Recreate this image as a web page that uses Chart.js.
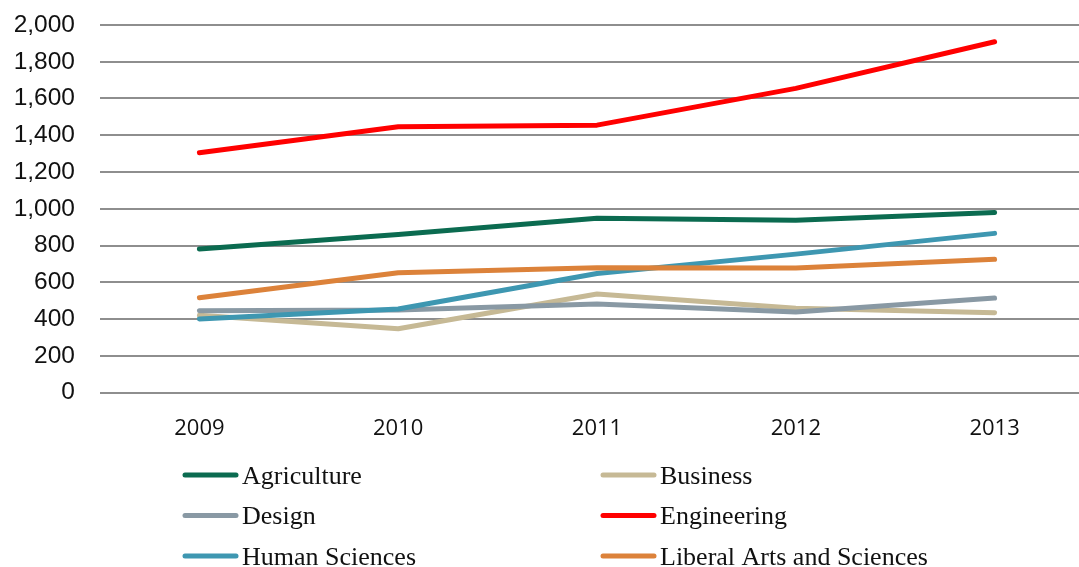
<!DOCTYPE html>
<html>
<head>
<meta charset="utf-8">
<script src="https://cdn.jsdelivr.net/npm/chart.js@4"></script>
<style>
  html, body { margin: 0; padding: 0; background: #fff; overflow: hidden; }
  #wrap { width: 1094px; height: 567px; }
</style>
</head>
<body>
<div id="wrap"><canvas id="c" width="1094" height="567"></canvas></div>
<script>
// Enrolment by college, 2009–2013
const years = ['2009', '2010', '2011', '2012', '2013'];
const agriculture   = [781, 860, 948, 938, 980];
const business      = [420, 347, 536, 458, 434];
const design        = [445, 449, 481, 438, 514];
const engineering   = [1305, 1446, 1455, 1655, 1909];
const humanSciences = [400, 454, 648, 753, 866];
const liberalArts   = [516, 652, 679, 677, 725];
const yTicks = [0, 200, 400, 600, 800, 1000, 1200, 1400, 1600, 1800, 2000];

const series = [
  { label: 'Agriculture', data: agriculture, color: '#0b6b50' },
  { label: 'Business', data: business, color: '#c6b995' },
  { label: 'Design', data: design, color: '#8999a4' },
  { label: 'Engineering', data: engineering, color: '#ff0000' },
  { label: 'Human Sciences', data: humanSciences, color: '#3e97b1' },
  { label: 'Liberal Arts and Sciences', data: liberalArts, color: '#dc823a' }
];

// Two-column legend under the plot, drawn from the datasets
const gridLegend = {
  id: 'gridLegend',
  afterDraw(chart) {
    const ctx = chart.ctx;
    const colX = [183, 601];
    const rowY = [475, 515.5, 556];
    ctx.save();
    ctx.font = '26px "Liberation Serif", serif';
    ctx.textBaseline = 'alphabetic';
    ctx.textAlign = 'left';
    chart.data.datasets.forEach((ds, i) => {
      const x = colX[i % 2];
      const y = rowY[Math.floor(i / 2)];
      ctx.strokeStyle = ds.borderColor;
      ctx.lineWidth = 5;
      ctx.lineCap = 'round';
      ctx.beginPath();
      ctx.moveTo(x + 2, y);
      ctx.lineTo(x + 53, y);
      ctx.stroke();
      ctx.fillStyle = '#111';
      ctx.fillText(ds.label, x + 59, y + 8.5);
    });
    ctx.restore();
  }
};

new Chart(document.getElementById('c'), {
  type: 'line',
  data: {
    labels: years,
    datasets: series.map((s, i) => ({
      label: s.label,
      data: s.data,
      borderColor: s.color,
      backgroundColor: s.color,
      borderWidth: 5,
      borderCapStyle: 'round',
      borderJoinStyle: 'round',
      pointRadius: 0,
      tension: 0,
      fill: false,
      order: series.length - i
    }))
  },
  options: {
    responsive: false,
    animation: false,
    layout: { padding: { top: 25, right: 0, bottom: 0, left: 0 } },
    plugins: {
      legend: { display: false },
      tooltip: { enabled: false }
    },
    scales: {
      x: {
        offset: true,
        grid: { display: false },
        border: { display: false },
        ticks: {
          color: '#111',
          font: { family: '"Open Sans", sans-serif', size: 22 },
          padding: 15,
          maxRotation: 0
        },
        afterFit(s) { s.height = 174.5; }
      },
      y: {
        min: 0,
        max: 2000,
        afterBuildTicks(s) { s.ticks = yTicks.map(v => ({ value: v })); },
        grid: { color: '#8e8e8e', lineWidth: 2, drawTicks: true, tickLength: 25, tickColor: 'rgba(0,0,0,0)' },
        border: { display: false },
        ticks: {
          color: '#111',
          font: { family: '"Liberation Sans", Arial, sans-serif', size: 24.5 },
          padding: 0,
          callback: v => v.toLocaleString('en-US')
        },
        afterFit(s) { s.width = 100; }
      }
    }
  },
  plugins: [gridLegend]
});
</script>
</body>
</html>
